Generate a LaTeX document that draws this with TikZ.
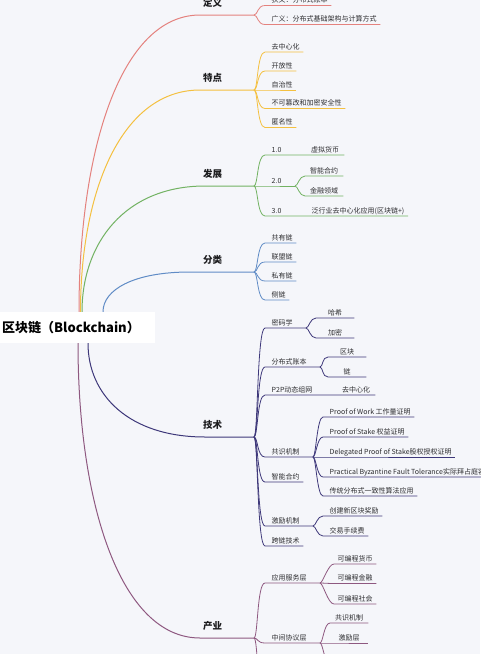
\documentclass[tikz,border=0pt]{standalone}
\usepackage{fontspec}
\setmainfont{Noto Sans CJK SC}
\usetikzlibrary{calc}
\definecolor{paper}{RGB}{245,246,250}
\definecolor{ink}{RGB}{45,45,48}
\definecolor{inkdark}{RGB}{28,28,30}
\definecolor{defred}{RGB}{228,130,126}
\definecolor{featamber}{RGB}{244,192,64}
\definecolor{devgreen}{RGB}{114,178,98}
\definecolor{typeblue}{RGB}{96,140,198}
\definecolor{techindigo}{RGB}{62,56,122}
\definecolor{induplum}{RGB}{142,88,128}

\begin{document}
\begin{tikzpicture}[
    x=1pt, y=-1pt,
    % Styles definition
    rootbox/.style={fill=white, anchor=west, inner xsep=8pt, minimum height=31pt, text width=145pt, align=left,
        font=\fontsize{13}{15}\selectfont\bfseries, text=black},
    topic/.style={anchor=base west, inner sep=0pt, font=\fontsize{9.5}{11}\selectfont\bfseries, text=inkdark},
    sub/.style={anchor=south west, inner xsep=3.5pt, inner ysep=1.5pt, text height=6.1pt, text depth=1pt,
        font=\fontsize{7}{8.5}\selectfont, text=ink},
    leaf/.style={sub, minimum width=38pt},
    trunk/.style={line width=1pt},
    twig/.style={line width=0.8pt}
]

% Paper
\fill[paper] (0,0) rectangle (480,654);
\useasboundingbox (0,0) rectangle (480,654);

% Root
\node[rootbox] (root) at (-6,327.5) {};

% 1. Main branches out of the root
\coordinate (dingyi-s) at (254,15);
\coordinate (tedian-s) at (254,90);
\coordinate (fazhan-s) at (254,186);
\coordinate (fenlei-s) at (254,272);
\coordinate (jishu-s) at (254,437);
\coordinate (chanye-s) at (254,638);

\draw[trunk, defred] ([xshift=85pt]root.north west) .. controls (79,149) and (121,15) .. (200,15) -- (dingyi-s);
\draw[trunk, featamber] ([xshift=86.5pt]root.north west) .. controls (80.5,190) and (122,90) .. (200,90) -- (tedian-s);
\draw[trunk, devgreen] ([xshift=88pt]root.north west) .. controls (82,243) and (125,186) .. (205,186) -- (fazhan-s);
\draw[trunk, typeblue] ([xshift=109pt]root.north west) .. controls (103,290) and (133,272) .. (190,272) -- (fenlei-s);
\draw[trunk, techindigo] ([xshift=94pt]root.south west) .. controls (88,395) and (129,437) .. (205,437) -- (jishu-s);
\draw[trunk, induplum] ([xshift=84pt]root.south west) .. controls (78,505) and (121,638) .. (200,638) -- (chanye-s);

\node[rootbox] (roottitle) at (-6,327.5) {区块链（Blockchain）};

\node[topic] (dingyi) at (203,6.5) {定义};
\node[topic] (tedian) at (203,81.5) {特点};
\node[topic] (fazhan) at (203,177.5) {发展};
\node[topic] (fenlei) at (203,263.5) {分类};
\node[topic] (jishu) at (203,428.5) {技术};
\node[topic] (chanye) at (203,629.5) {产业};

% 2. 定义
\node[sub] (xiayi) at (268,5.5) {狭义：分布式账本};
\node[sub] (guangyi) at (268,24.5) {广义：分布式基础架构与计算方式};
\draw[twig, defred] (dingyi-s) .. controls +(4,0) and +(-8,0) .. ([xshift=-3pt]xiayi.south west) -- (xiayi.south east);
\draw[twig, defred] (dingyi-s) .. controls +(4,0) and +(-8,0) .. ([xshift=-3pt]guangyi.south west) -- (guangyi.south east);

% 3. 特点
\node[sub] (qzxh) at (268,52) {去中心化};
\node[sub] (kfx) at (268,71) {开放性};
\node[sub] (zzx) at (268,90) {自治性};
\node[sub] (bkcg) at (268,108.5) {不可篡改和加密安全性};
\node[sub] (nmx) at (268,127.5) {匿名性};
\draw[twig, featamber] (tedian-s) .. controls +(4,0) and +(-8,0) .. ([xshift=-3pt]qzxh.south west) -- (qzxh.south east);
\draw[twig, featamber] (tedian-s) .. controls +(4,0) and +(-8,0) .. ([xshift=-3pt]kfx.south west) -- (kfx.south east);
\draw[twig, featamber] (tedian-s) -- ([xshift=-3pt]zzx.south west) -- (zzx.south east);
\draw[twig, featamber] (tedian-s) .. controls +(4,0) and +(-8,0) .. ([xshift=-3pt]bkcg.south west) -- (bkcg.south east);
\draw[twig, featamber] (tedian-s) .. controls +(4,0) and +(-8,0) .. ([xshift=-3pt]nmx.south west) -- (nmx.south east);

% 4. 发展
\node[sub] (v1) at (268,155) {1.0};
\node[leaf] (xnhb) at (306,155) {虚拟货币};
\node[sub] (v2) at (268,186) {2.0};
\coordinate (v2-s) at (295,186);
\node[leaf] (znhy) at (305,176) {智能合约};
\node[leaf] (jrly) at (305,196) {金融领域};
\node[sub] (v3) at (268,216) {3.0};
\node[leaf] (fhy) at (308,216) {泛行业去中心化应用(区块链+)};
\draw[twig, devgreen] (fazhan-s) .. controls +(4,0) and +(-8,0) .. ([xshift=-3pt]v1.south west) -- (xnhb.south east);
\draw[twig, devgreen] (fazhan-s) -- ([xshift=-3pt]v2.south west) -- (v2-s);
\draw[twig, devgreen] (fazhan-s) .. controls +(4,0) and +(-8,0) .. ([xshift=-3pt]v3.south west) -- (fhy.south east);
\draw[twig, devgreen] (v2-s) .. controls +(3,0) and +(-6,0) .. (znhy.south west) -- (znhy.south east);
\draw[twig, devgreen] (v2-s) .. controls +(3,0) and +(-6,0) .. (jrly.south west) -- (jrly.south east);

% 5. 分类
\node[sub] (gyl) at (268,243) {共有链};
\node[sub] (lml) at (268,262) {联盟链};
\node[sub] (syl) at (268,281) {私有链};
\node[sub] (cl) at (268,300) {侧链};
\draw[twig, typeblue] (fenlei-s) .. controls +(4,0) and +(-8,0) .. ([xshift=-3pt]gyl.south west) -- (gyl.south east);
\draw[twig, typeblue] (fenlei-s) .. controls +(4,0) and +(-8,0) .. ([xshift=-3pt]lml.south west) -- (lml.south east);
\draw[twig, typeblue] (fenlei-s) .. controls +(4,0) and +(-8,0) .. ([xshift=-3pt]syl.south west) -- (syl.south east);
\draw[twig, typeblue] (fenlei-s) .. controls +(4,0) and +(-8,0) .. ([xshift=-3pt]cl.south west) -- (cl.south east);

% 6. 技术
\node[sub] (mmx) at (268,328) {密码学};
\coordinate (mmx-s) at (306,328);
\node[leaf] (hx) at (316,318) {哈希};
\node[leaf] (jm) at (316,338) {加密};
\node[sub] (fbzb) at (268,367) {分布式账本};
\coordinate (fbzb-s) at (320,367);
\node[leaf] (qk) at (328,357) {区块};
\node[leaf] (lian) at (328,377) {链};
\node[sub] (ptp) at (268,395) {P2P动态组网};
\node[leaf] (ptpq) at (337,395) {去中心化};
\node[sub] (gsjz) at (268,457) {共识机制};
\coordinate (gsjz-s) at (313,457);
\node[sub] (pow) at (326,417) {Proof of Work 工作量证明};
\node[sub] (pos) at (326,437) {Proof of Stake 权益证明};
\node[sub] (dpos) at (326,457) {Delegated Proof of Stake股权授权证明};
\node[sub] (pbft) at (326,477) {Practical Byzantine Fault Tolerance实际拜占庭容错};
\node[sub] (ctfb) at (326,496) {传统分布式一致性算法应用};
\node[sub] (znhy2) at (268,482) {智能合约};
\node[sub] (jljz) at (268,526) {激励机制};
\coordinate (jljz-s) at (313,526);
\node[sub] (cjxq) at (326,516) {创建新区块奖励};
\node[sub] (jysx) at (326,536) {交易手续费};
\node[sub] (klj) at (268,546) {跨链技术};

\draw[twig, techindigo] (jishu-s) .. controls +(4,0) and +(-8,0) .. ([xshift=-3pt]mmx.south west) -- (mmx-s);
\draw[twig, techindigo] (jishu-s) .. controls +(4,0) and +(-8,0) .. ([xshift=-3pt]fbzb.south west) -- (fbzb-s);
\draw[twig, techindigo] (jishu-s) .. controls +(4,0) and +(-8,0) .. ([xshift=-3pt]ptp.south west) -- (ptpq.south east);
\draw[twig, techindigo] (jishu-s) .. controls +(4,0) and +(-8,0) .. ([xshift=-3pt]gsjz.south west) -- (gsjz-s);
\draw[twig, techindigo] (jishu-s) .. controls +(4,0) and +(-8,0) .. ([xshift=-3pt]znhy2.south west) -- (znhy2.south east);
\draw[twig, techindigo] (jishu-s) .. controls +(4,0) and +(-8,0) .. ([xshift=-3pt]jljz.south west) -- (jljz-s);
\draw[twig, techindigo] (jishu-s) .. controls +(4,0) and +(-8,0) .. ([xshift=-3pt]klj.south west) -- (klj.south east);

\draw[twig, techindigo] (mmx-s) .. controls +(3,0) and +(-6,0) .. (hx.south west) -- (hx.south east);
\draw[twig, techindigo] (mmx-s) .. controls +(3,0) and +(-6,0) .. (jm.south west) -- (jm.south east);
\draw[twig, techindigo] (fbzb-s) .. controls +(3,0) and +(-6,0) .. (qk.south west) -- (qk.south east);
\draw[twig, techindigo] (fbzb-s) .. controls +(3,0) and +(-6,0) .. (lian.south west) -- (lian.south east);
\draw[twig, techindigo] (gsjz-s) .. controls +(3,0) and +(-6,0) .. ([xshift=-3pt]pow.south west) -- (pow.south east);
\draw[twig, techindigo] (gsjz-s) .. controls +(3,0) and +(-6,0) .. ([xshift=-3pt]pos.south west) -- (pos.south east);
\draw[twig, techindigo] (gsjz-s) -- ([xshift=-3pt]dpos.south west) -- (dpos.south east);
\draw[twig, techindigo] (gsjz-s) .. controls +(3,0) and +(-6,0) .. ([xshift=-3pt]pbft.south west) -- (pbft.south east);
\draw[twig, techindigo] (gsjz-s) .. controls +(3,0) and +(-6,0) .. ([xshift=-3pt]ctfb.south west) -- (ctfb.south east);
\draw[twig, techindigo] (jljz-s) .. controls +(3,0) and +(-6,0) .. ([xshift=-3pt]cjxq.south west) -- (cjxq.south east);
\draw[twig, techindigo] (jljz-s) .. controls +(3,0) and +(-6,0) .. ([xshift=-3pt]jysx.south west) -- (jysx.south east);

% 7. 产业
\node[sub] (yyfw) at (268,583) {应用服务层};
\coordinate (yyfw-s) at (320,583);
\node[leaf] (kbhb) at (334,564) {可编程货币};
\node[leaf] (kbjr) at (334,583.5) {可编程金融};
\node[leaf] (kbsh) at (334,604) {可编程社会};
\node[sub] (zjxy) at (268,643) {中间协议层};
\coordinate (zjxy-s) at (320,643);
\node[leaf] (gsjz3) at (330,623) {共识机制};
\node[leaf] (jlc) at (330,643) {激励层};
\coordinate (zjxy-more) at (330,663);
\coordinate (chanye-more) at (265,700);

\draw[twig, induplum] (chanye-s) .. controls +(4,0) and +(-8,0) .. ([xshift=-3pt]yyfw.south west) -- (yyfw-s);
\draw[twig, induplum] (chanye-s) .. controls +(4,0) and +(-8,0) .. ([xshift=-3pt]zjxy.south west) -- (zjxy-s);
\draw[twig, induplum] (chanye-s) .. controls +(4,0) and +(-8,0) .. (chanye-more);

\draw[twig, induplum] (yyfw-s) .. controls +(3,0) and +(-6,0) .. (kbhb.south west) -- (kbhb.south east);
\draw[twig, induplum] (yyfw-s) .. controls +(3,0) and +(-6,0) .. (kbjr.south west) -- (kbjr.south east);
\draw[twig, induplum] (yyfw-s) .. controls +(3,0) and +(-6,0) .. (kbsh.south west) -- (kbsh.south east);
\draw[twig, induplum] (zjxy-s) .. controls +(3,0) and +(-6,0) .. (gsjz3.south west) -- (gsjz3.south east);
\draw[twig, induplum] (zjxy-s) -- (jlc.south west) -- (jlc.south east);
\draw[twig, induplum] (zjxy-s) .. controls +(3,0) and +(-6,0) .. (zjxy-more);

\end{tikzpicture}
\end{document}
